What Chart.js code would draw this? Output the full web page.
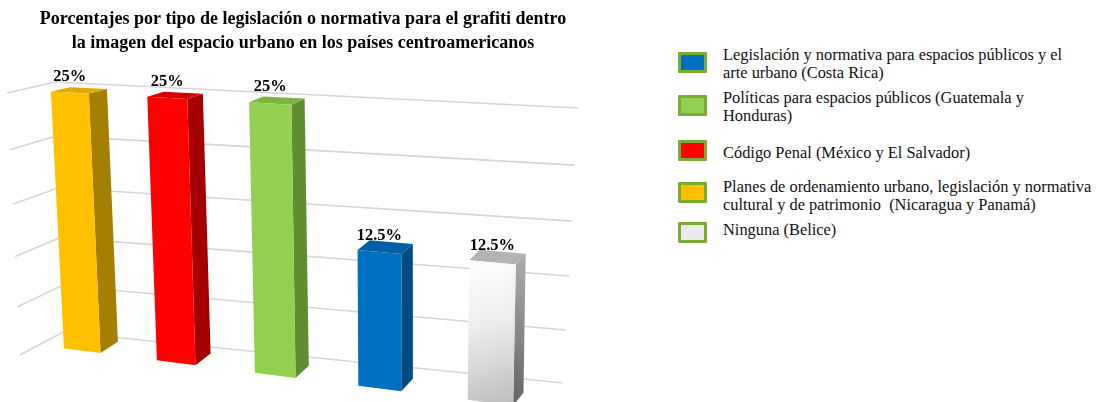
<!DOCTYPE html>
<html>
<head>
<meta charset="utf-8">
<script src="https://cdn.jsdelivr.net/npm/chart.js@4.4.1/dist/chart.umd.min.js"></script>
<style>
  body { margin: 0; background: #fff; }
  #marco { position: relative; width: 1097px; height: 402px; }
  #grafico { position: absolute; left: 0; top: 0; }
  .caja { position: absolute; width: 23px; height: 15px; border: 3px solid #7aab36; border-radius: 1px; }
  .texto { position: absolute; left: 723px; font-family: "Liberation Serif", serif; font-size: 16.4px; line-height: 18px; color: #111; white-space: pre; }
</style>
</head>
<body>
<div id="marco">
  <canvas id="grafico" width="606" height="402"></canvas>
  <div id="leyenda"></div>
</div>
<script>
// datos
const categorias = [
    'Planes de ordenamiento urbano, legislación y normativa cultural y de patrimonio (Nicaragua y Panamá)',
    'Código Penal (México y El Salvador)',
    'Políticas para espacios públicos (Guatemala y Honduras)',
    'Legislación y normativa para espacios públicos y el arte urbano (Costa Rica)',
    'Ninguna (Belice)'
];
const porcentajes = [25, 25, 25, 12.5, 12.5];
const etiquetas = ['25%', '25%', '25%', '12.5%', '12.5%'];

// leyenda (orden del original)
const textosLeyenda = [
    'Legislación y normativa para espacios públicos y el\narte urbano (Costa Rica)',
    'Políticas para espacios públicos (Guatemala y\nHonduras)',
    'Código Penal (México y El Salvador)',
    'Planes de ordenamiento urbano, legislación y normativa\ncultural y de patrimonio  (Nicaragua y Panamá)',
    'Ninguna (Belice)'
];
const indicesLeyenda = [3, 2, 1, 0, 4];

// estilos de las caras
const colorFrente = ['#ffc000', '#ff0000', '#92d050', '#0070c0', null];
const colorArriba = ['#e2aa00', '#d80000', '#7db443', '#005ea6', '#b3b3b3'];
const colorLado = ['#a57f00', '#a50000', '#5f8e30', '#004c82', null];
const colorCaja = ['#ffc000', '#ff0000', '#92d050', '#0070c0', '#ebebeb'];

// cuadrilateros de la perspectiva (TL, TR, BR, BL)
const planoFrente = [[23, 90], [555, 119], [548, 410], [37, 345]];
const planoFondo = [[43, 86], [564, 111], [558, 397], [56, 334]];
const paredFondo = [[55, 82], [578, 108], [563, 383], [63, 332]];
const paredIzq = [[7, 93], [55, 82], [63, 332], [20, 355]];

function homografia(q) {
    var x0 = q[0][0], y0 = q[0][1], x1 = q[1][0], y1 = q[1][1];
    var x2 = q[2][0], y2 = q[2][1], x3 = q[3][0], y3 = q[3][1];
    var dx1 = x1 - x2, dx2 = x3 - x2, dx3 = x0 - x1 + x2 - x3;
    var dy1 = y1 - y2, dy2 = y3 - y2, dy3 = y0 - y1 + y2 - y3;
    var den = dx1 * dy2 - dx2 * dy1;
    var g = (dx3 * dy2 - dx2 * dy3) / den;
    var h = (dx1 * dy3 - dx3 * dy1) / den;
    var a = x1 - x0 + g * x1, b = x3 - x0 + h * x3, c = x0;
    var d = y1 - y0 + g * y1, e = y3 - y0 + h * y3, f = y0;
    return function (u, v) {
        var w = g * u + h * v + 1;
        return [(a * u + b * v + c) / w, (d * u + e * v + f) / w];
    };
}

const pFrente = homografia(planoFrente);
const pFondo = homografia(planoFondo);
const pPared = homografia(paredFondo);
const pIzq = homografia(paredIzq);

function poligono(ctx, pts, relleno) {
    ctx.beginPath();
    ctx.moveTo(pts[0][0], pts[0][1]);
    for (var i = 1; i < pts.length; i++) ctx.lineTo(pts[i][0], pts[i][1]);
    ctx.closePath();
    ctx.fillStyle = relleno;
    ctx.fill();
}

const barras3d = {
    id: 'barras3d',
    beforeDatasetsDraw(chart) {
        const ctx = chart.ctx;
        const area = chart.chartArea;
        const escalaY = chart.scales.y;
        const nu = x => (x - area.left) / (area.right - area.left);
        const nv = y => (y - area.top) / (area.bottom - area.top);

        ctx.save();
        // lineas de la cuadricula en las paredes
        ctx.strokeStyle = '#d6d6d6';
        ctx.lineWidth = 1.6;
        escalaY.ticks.forEach(function (t) {
            var v = nv(escalaY.getPixelForValue(t.value));
            var a = pIzq(0, v), b = pIzq(1, v), c = pPared(1, v);
            ctx.beginPath();
            ctx.moveTo(a[0], a[1]);
            ctx.lineTo(b[0], b[1]);
            ctx.lineTo(c[0], c[1]);
            ctx.stroke();
        });

        // barras
        const meta = chart.getDatasetMeta(0);
        meta.data.forEach(function (el, i) {
            var p = el.getProps(['x', 'y', 'base', 'width'], true);
            var u0 = nu(p.x - p.width / 2), u1 = nu(p.x + p.width / 2);
            var vt = nv(p.y), vb = nv(p.base);
            var fTL = pFrente(u0, vt), fTR = pFrente(u1, vt), fBR = pFrente(u1, vb), fBL = pFrente(u0, vb);
            var bTL = pFondo(u0, vt), bTR = pFondo(u1, vt), bBR = pFondo(u1, vb);

            var lado = colorLado[i];
            if (!lado) {
                lado = ctx.createLinearGradient(fTR[0], fTR[1], bBR[0], bBR[1]);
                lado.addColorStop(0, '#a8a8a8');
                lado.addColorStop(1, '#6a6a6a');
            }
            poligono(ctx, [fTR, bTR, bBR, fBR], lado);
            poligono(ctx, [fTL, bTL, bTR, fTR], colorArriba[i]);

            var frente = colorFrente[i];
            if (!frente) {
                frente = ctx.createLinearGradient(fTL[0], fTL[1], fBR[0], fBR[1]);
                frente.addColorStop(0, '#ffffff');
                frente.addColorStop(0.45, '#ececec');
                frente.addColorStop(1, '#bdbdbd');
            }
            poligono(ctx, [fTL, fTR, fBR, fBL], frente);

            // etiqueta
            var c = pFrente((u0 + u1) / 2, vt);
            ctx.fillStyle = '#000';
            ctx.font = 'bold 16.5px "Liberation Serif"';
            ctx.textAlign = 'center';
            ctx.textBaseline = 'alphabetic';
            ctx.fillText(etiquetas[i], c[0], c[1] - 12);
        });
        ctx.restore();
        return false;
    }
};

const config = {
    type: 'bar',
    data: {
        labels: categorias,
        datasets: [{
            data: porcentajes,
            backgroundColor: colorCaja,
            barPercentage: 0.4,
            categoryPercentage: 1.0
        }]
    },
    options: {
        responsive: false,
        animation: false,
        layout: { padding: { left: 10, right: 10, bottom: 10 } },
        plugins: {
            legend: { display: false },
            tooltip: { enabled: false },
            title: {
                display: true,
                text: ['Porcentajes por tipo de legislación o normativa para el grafiti dentro',
                       'la imagen del espacio urbano en los países centroamericanos'],
                color: '#000',
                font: { family: 'Liberation Serif', size: 18, weight: 'bold', lineHeight: 1.35 },
                padding: { top: 7, bottom: 10 }
            }
        },
        scales: {
            x: { grid: { display: false }, border: { display: false }, ticks: { display: false } },
            y: {
                min: 0, max: 25,
                ticks: { stepSize: 5, display: false },
                grid: { display: false }, border: { display: false }
            }
        }
    },
    plugins: [barras3d]
};

var ctx = document.getElementById('grafico').getContext('2d');
let miGrafico = new Chart(ctx, config);

// leyenda en html
const topes = [45.5, 88.5, 143.5, 177.5, 220.5];
const cajasTop = [52, 95, 140, 182, 222];
var leyenda = document.getElementById('leyenda');
for (var k = 0; k < textosLeyenda.length; k++) {
    var caja = document.createElement('div');
    caja.className = 'caja';
    caja.style.left = '678px';
    caja.style.top = cajasTop[k] + 'px';
    caja.style.background = colorCaja[indicesLeyenda[k]];
    leyenda.appendChild(caja);
    var txt = document.createElement('div');
    txt.className = 'texto';
    txt.style.top = topes[k] + 'px';
    txt.textContent = textosLeyenda[k];
    leyenda.appendChild(txt);
}
</script>
</body>
</html>
